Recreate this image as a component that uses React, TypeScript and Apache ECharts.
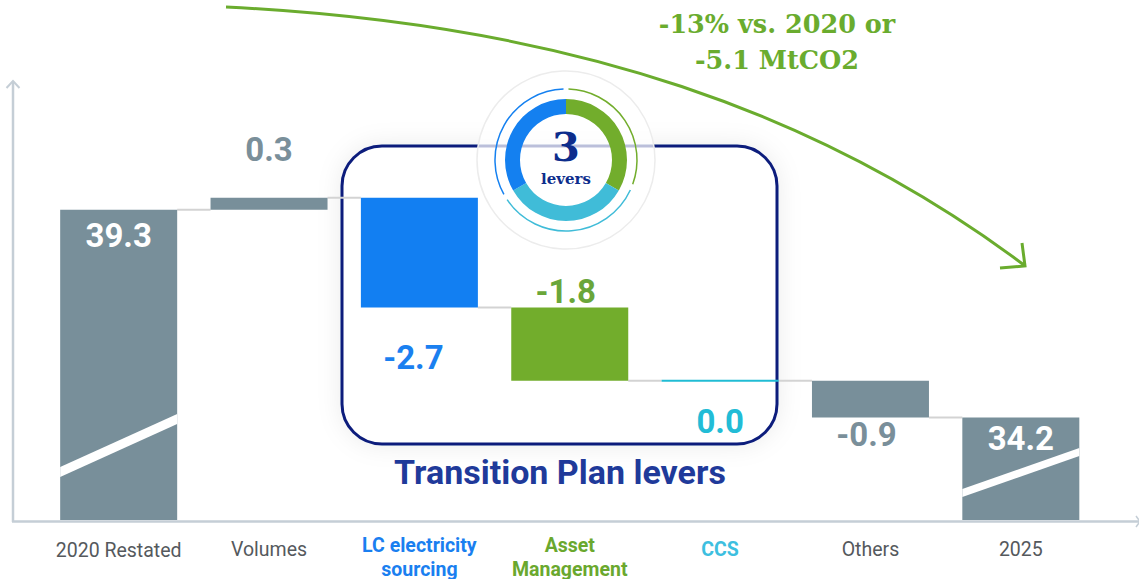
import React, { useEffect, useRef } from 'react';
import * as echarts from 'echarts';

// ---------------- data ----------------
const categories = ['2020 Restated', 'Volumes', 'LC electricity\nsourcing', 'Asset\nManagement', 'CCS', 'Others', '2025'];
const changes = [39.3, 0.3, -2.7, -1.8, 0.0, -0.9, 34.2];
const isTotal = [true, false, false, false, false, false, true];
const leverNames = ['Asset Management', 'CCS', 'LC electricity sourcing'];
const leverShares = [1, 1, 1];
const annotationLines = ['-13% vs. 2020 or', '-5.1 MtCO2'];
const boxTitle = 'Transition Plan levers';
const leverCount = '3';
const leverWord = 'levers';

// ---------------- styles ----------------
const Y_MIN = 31.68;
const Y_MAX = 42.49;
const BAR_W = 117;
const GRAY = '#788f9a';
const BLUE = '#127ff2';
const GREEN = '#72ad2c';
const CYAN = '#20bcd4';
const NAVY = '#0a1e7c';
const barColors = [GRAY, GRAY, BLUE, GREEN, CYAN, GRAY, GRAY];
const labelColors = ['#ffffff', '#7a8f9a', '#1a80f0', '#6aa63a', '#22bcd6', '#7a8f9a', '#ffffff'];
const labelAnchor = ['top', 'top', 'bottom', 'top', 'bottom', 'bottom', 'top'];
const labelOffset = [26, -48, 50, -16, 41, 17, 21];
const labelDx = [0, 0, -6, -4, 0, -4, 0];
const catColors = ['#55595d', '#55595d', '#1a7ff0', '#6aa82e', '#3dbfe0', '#55595d', '#55595d'];
const catBold = [false, false, true, true, true, false, false];
const catPad = [5, 4, 0, 0, 4, 4, 4];
const stripes: (number[] | null)[] = [[53, 43, 106, 96], null, null, null, null, null, [31, 23, 72, 64]];
const leverColors = [GREEN, '#40bcd8', '#1480f0'];

// waterfall ranges
const lows: number[] = [];
const highs: number[] = [];
const levels: number[] = [];
let run = 0;
changes.forEach((v, i) => {
  if (isTotal[i]) {
    lows.push(Y_MIN);
    highs.push(v);
    run = v;
  } else {
    const s = run;
    const e = run + v;
    lows.push(Math.min(s, e));
    highs.push(Math.max(s, e));
    run = e;
  }
  levels.push(run);
});

const deg = (d: number) => (d * Math.PI) / 180;

export default function App() {
  const ref = useRef<HTMLDivElement>(null);
  useEffect(() => {
    if (!ref.current) return;
    const chart = echarts.init(ref.current, undefined, { renderer: 'svg' });
    const DCX = 566;
    const DCY = 160;
    const option: any = {
      animation: false,
      backgroundColor: '#ffffff',
      grid: { left: 43.5, right: 43, top: 80, bottom: 59, outerBoundsMode: 'none', containLabel: false },
      xAxis: {
        type: 'category',
        data: categories.map((c, i) => ({
          value: c,
          textStyle: {
            color: catColors[i],
            fontWeight: catBold[i] ? 'bold' : 'normal',
            padding: [catPad[i], 0, 0, 0],
          },
        })),
        axisLine: { show: false },
        axisTick: { show: false },
        axisLabel: {
          interval: 0,
          margin: 13,
          fontFamily: 'Roboto',
          fontSize: 19.5,
          lineHeight: 24,
        },
      },
      yAxis: {
        type: 'value',
        min: Y_MIN,
        max: Y_MAX,
        show: false,
      },
      series: [
        {
          type: 'custom',
          name: 'connectors',
          silent: true,
          data: levels.slice(0, -1).map((l, i) => [i, l]),
          encode: { x: 0, y: 1 },
          renderItem: (_p: any, api: any) => {
            const i = api.value(0);
            const lvl = api.value(1);
            const a = api.coord([i, lvl]);
            const b = api.coord([i + 1, lvl]);
            return {
              type: 'line',
              shape: { x1: a[0] + BAR_W / 2, y1: a[1], x2: b[0] - BAR_W / 2, y2: b[1] },
              style: { stroke: '#d3d3d3', lineWidth: 2 },
            };
          },
        },
        {
          type: 'custom',
          name: 'bars',
          silent: true,
          data: categories.map((_c, i) => [i, lows[i], highs[i]]),
          encode: { x: 0, y: [1, 2] },
          renderItem: (_p: any, api: any) => {
            const i = api.value(0);
            const lo = api.value(1);
            const hi = api.value(2);
            const top = api.coord([i, hi]);
            const bot = api.coord([i, lo]);
            const cx = top[0];
            const x0 = cx - BAR_W / 2;
            let y0 = top[1];
            let h = bot[1] - top[1];
            if (h < 2) {
              y0 = y0 - 1;
              h = 2;
            }
            const children: any[] = [
              { type: 'rect', shape: { x: x0, y: y0, width: BAR_W, height: h }, style: { fill: barColors[i] } },
            ];
            const st = stripes[i];
            if (st) {
              children.push({
                type: 'polygon',
                shape: {
                  points: [
                    [x0, bot[1] - st[0]],
                    [x0 + BAR_W, bot[1] - st[2]],
                    [x0 + BAR_W, bot[1] - st[3]],
                    [x0, bot[1] - st[1]],
                  ],
                },
                style: { fill: '#ffffff' },
              });
            }
            const ly = (labelAnchor[i] === 'top' ? top[1] : bot[1]) + labelOffset[i];
            children.push({
              type: 'text',
              x: cx + labelDx[i],
              y: ly,
              style: {
                text: changes[i].toFixed(1),
                fill: labelColors[i],
                font: 'bold 33px Roboto',
                align: 'center',
                verticalAlign: 'middle',
              },
            });
            return { type: 'group', children };
          },
        },
        {
          type: 'pie',
          name: 'levers',
          silent: true,
          center: [DCX, DCY],
          radius: [46, 61],
          startAngle: 90,
          clockwise: true,
          label: { show: false },
          labelLine: { show: false },
          data: leverNames.map((n, i) => ({ name: n, value: leverShares[i], itemStyle: { color: leverColors[i] } })),
        },
      ],
      graphic: [
        // axes
        { type: 'line', shape: { x1: 13, y1: 82, x2: 13, y2: 522 }, style: { stroke: '#c5ced6', lineWidth: 2.5 } },
        { type: 'line', shape: { x1: 12, y1: 521.5, x2: 1139, y2: 521.5 }, style: { stroke: '#c5ced6', lineWidth: 2.5 } },
        { type: 'polyline', shape: { points: [[6.5, 88], [13, 81], [19.5, 88]] }, style: { stroke: '#c5ced6', lineWidth: 2, fill: 'none' } },
        { type: 'polyline', shape: { points: [[1136, 516], [1140, 521.5], [1136, 527]] }, style: { stroke: '#c5ced6', lineWidth: 1.5, fill: 'none' } },
        // levers box
        {
          type: 'rect',
          shape: { x: 342, y: 146, width: 435, height: 298, r: 40 },
          style: { fill: '#ffffff', stroke: NAVY, lineWidth: 3, shadowBlur: 24, shadowColor: 'rgba(0,0,0,0.08)' },
        },
        {
          type: 'text',
          x: 560,
          y: 472,
          style: { text: boxTitle, fill: '#1f3a9a', font: 'bold 34px Roboto', align: 'center', verticalAlign: 'middle' },
        },
        // donut background
        {
          type: 'circle',
          shape: { cx: DCX, cy: DCY, r: 89 },
          style: { fill: 'rgba(255,255,255,0.72)', stroke: '#ececec', lineWidth: 1.5 },
        },
        { type: 'arc', shape: { cx: DCX, cy: DCY, r: 71, startAngle: deg(-88), endAngle: deg(20), clockwise: true }, style: { stroke: GREEN, lineWidth: 1.5, fill: 'none' } },
        { type: 'arc', shape: { cx: DCX, cy: DCY, r: 71, startAngle: deg(25), endAngle: deg(146), clockwise: true }, style: { stroke: '#40bcd8', lineWidth: 1.5, fill: 'none' } },
        { type: 'arc', shape: { cx: DCX, cy: DCY, r: 71, startAngle: deg(151), endAngle: deg(268), clockwise: true }, style: { stroke: '#1480f0', lineWidth: 1.5, fill: 'none' } },
        {
          type: 'text',
          x: DCX,
          y: 146,
          style: { text: leverCount, fill: '#0d2d8c', font: 'bold 40px "DejaVu Serif"', align: 'center', verticalAlign: 'middle', lineHeight: 36 },
        },
        {
          type: 'text',
          x: DCX,
          y: 179,
          style: { text: leverWord, fill: '#0d2d8c', font: 'bold 15px "DejaVu Serif"', align: 'center', verticalAlign: 'middle', lineHeight: 15 },
        },
        // reduction arrow
        {
          type: 'bezierCurve',
          shape: { x1: 226, y1: 7, cpx1: 576, cpy1: 24, cpx2: 825, cpy2: 116, x2: 1024, y2: 265 },
          style: { stroke: '#6aac2e', lineWidth: 3, fill: 'none' },
        },
        {
          type: 'polyline',
          shape: { points: [[1000, 268], [1025, 266], [1022, 243]] },
          style: { stroke: '#6aac2e', lineWidth: 3, fill: 'none' },
        },
        {
          type: 'text',
          x: 777,
          y: 24,
          style: { text: annotationLines[0], fill: '#6aac2e', font: 'bold 25.5px "DejaVu Serif"', align: 'center', verticalAlign: 'middle' },
        },
        {
          type: 'text',
          x: 777,
          y: 60,
          style: { text: annotationLines[1], fill: '#6aac2e', font: 'bold 25.5px "DejaVu Serif"', align: 'center', verticalAlign: 'middle' },
        },
      ],
    };
    chart.setOption(option);
    return () => chart.dispose();
  }, []);
  return <div ref={ref} style={{ position: 'fixed', left: 0, top: 0, width: 1139, height: 579 }} />;
}
